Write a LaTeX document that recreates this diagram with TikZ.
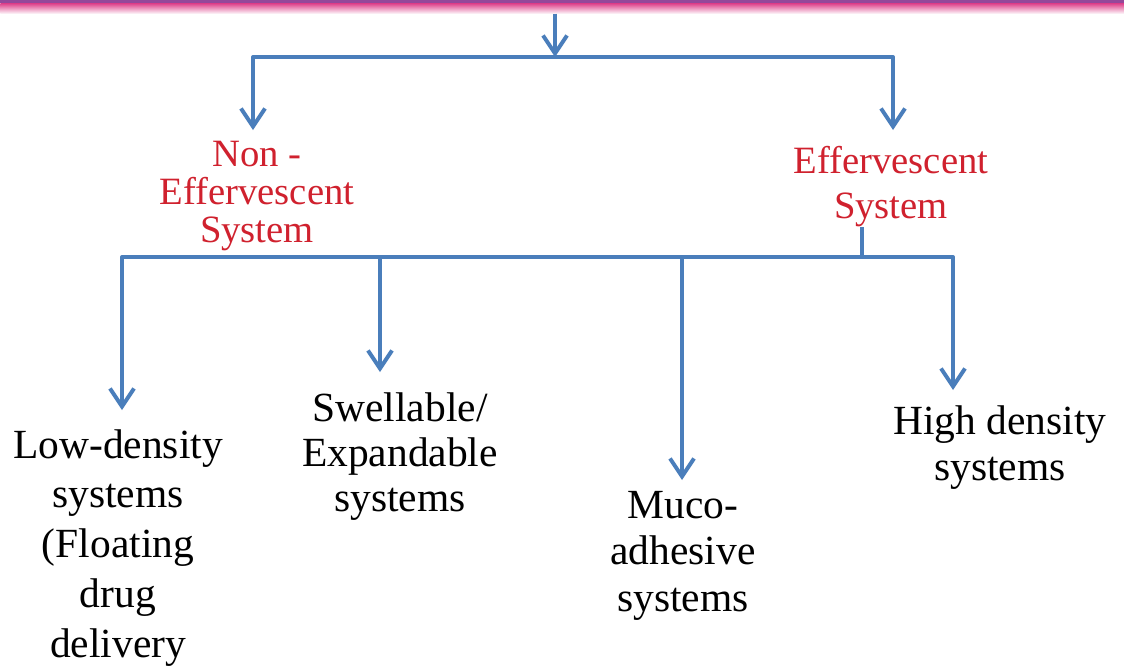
\documentclass[tikz,border=0pt]{standalone}
\usepackage{fontspec}
\setmainfont{Liberation Serif}
\usepackage{xcolor}
\usetikzlibrary{arrows.meta, positioning}

\definecolor{lineblue}{HTML}{4A7EBB}
\definecolor{labelred}{HTML}{D0212E}
\definecolor{bandpink}{HTML}{DE3F8A}
\definecolor{bandpurple}{HTML}{94489A}

\begin{document}
\begin{tikzpicture}[
  x=0.025cm, y=-0.025cm,
  band/.style={rectangle, inner sep=0pt, minimum width=28.1cm, minimum height=0.25cm,
               top color=bandpink, bottom color=bandpink!8},
  redlabel/.style={align=center, text=labelred, inner sep=0pt,
                   font=\fontsize{27.5}{27}\selectfont},
  leaf/.style={align=center, text=black, inner sep=0pt,
               font=\fontsize{29.5}{35.5}\selectfont},
  link/.style={line width=2.8pt, lineblue, line join=round},
  arrow/.style={link, -{Straight Barb[length=4.5mm, width=6mm]}}
]
\useasboundingbox (0,0) rectangle (1124,666);
\fill[white] (0,0) rectangle (1124,666);

% top band (edge of the box above)
\node[band, anchor=north west] (top) at (0,3) {};
\fill[bandpurple] (top.north west) rectangle (1124,0);

% first split
\coordinate (split) at (555,57);
\coordinate (nontip) at (253,130);
\coordinate (efftip) at (893,130);
\node[redlabel, anchor=north] (noneff) at (257,141) {Non -\\Effervescent\\System};
\node[redlabel, anchor=north, font=\fontsize{27.5}{32}\selectfont] (eff) at (891,146) {Effervescent\\System};

% second split
\coordinate (bus) at (862,257);
\coordinate (lowtip) at (122,410);
\coordinate (swelltip) at (380,372);
\coordinate (mucotip) at (682,480);
\coordinate (hightip) at (953,390);

\node[leaf, anchor=north] (low) at (118,429) {Low-density\\systems\\(Floating\\drug\\delivery};
\node[leaf, anchor=north, font=\fontsize{29.5}{32}\selectfont] (swell) at (400,392) {Swellable/\\Expandable\\systems};
\node[leaf, anchor=north, font=\fontsize{29.5}{33}\selectfont] (muco) at (683,491) {Muco-\\adhesive\\systems};
\node[leaf, anchor=north, font=\fontsize{29.5}{33}\selectfont] (high) at (1000,405) {High density\\systems};

\draw[arrow] (top.south -| split) -- (split);
\draw[arrow] (split) -| (nontip);
\draw[arrow] (split) -| (efftip);
\draw[link] (eff.south -| bus) -- (bus);
\draw[arrow] (bus) -| (lowtip);
\draw[arrow] (bus) -| (swelltip);
\draw[arrow] (bus) -| (mucotip);
\draw[arrow] (bus) -| (hightip);
\end{tikzpicture}
\end{document}
